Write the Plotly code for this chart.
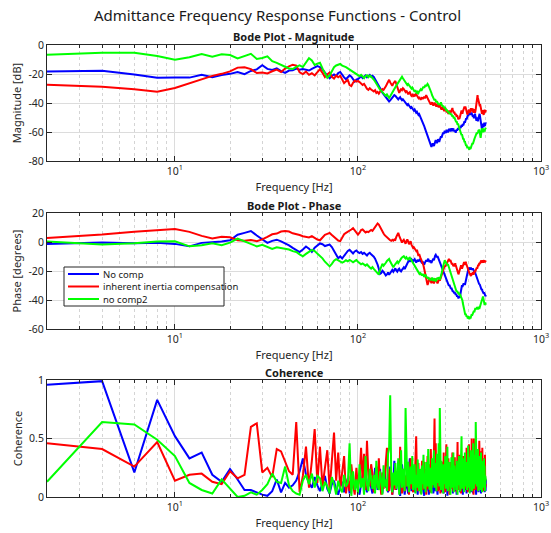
import plotly.graph_objects as go

# Frequency bins (Hz)
freq = list(range(2, 502, 2))

mag_nocomp = [
    -18.2, -17.8, -20.3, -22.6, -22.4, -22.5, -20.5, -22.2, -20.7, -19.9,
    -18.6, -20.1, -17.9, -16.8, -14.0, -16.5, -17.2, -16.1, -18.0, -19.2,
    -17.6, -17.4, -16.3, -17.1, -16.6, -17.3, -17.6, -16.4, -15.2, -14.6,
    -15.3, -16.8, -19.1, -21.2, -23.0, -21.4, -20.3, -21.3, -19.4, -18.6,
    -20.8, -22.3, -23.6, -22.0, -20.9, -21.8, -23.9, -25.2, -23.8, -23.5,
    -22.6, -21.5, -22.8, -21.9, -21.0, -22.3, -21.4, -20.7, -21.8, -21.2,
    -22.0, -23.5, -24.8, -26.5, -28.3, -29.8, -31.2, -32.9, -34.0, -34.8,
    -35.9, -37.0, -37.8, -38.9, -38.2, -37.1, -36.0, -35.2, -34.6, -35.0,
    -35.8, -36.9, -37.5, -36.6, -36.0, -37.2, -38.1, -37.4, -38.3, -39.0,
    -39.8, -40.6, -41.5, -40.8, -41.9, -42.7, -43.4, -42.8, -43.9, -44.6,
    -45.2, -44.5, -45.8, -46.7, -46.1, -47.3, -48.2, -47.6, -48.7, -49.5,
    -50.6, -51.9, -53.2, -54.6, -55.9, -57.3, -58.8, -60.1, -61.5, -62.8,
    -64.0, -65.3, -66.4, -67.8, -69.0, -70.3, -69.1, -67.9, -68.8, -69.6,
    -68.2, -66.9, -65.5, -66.8, -67.7, -66.3, -65.0, -65.9, -66.8, -65.4,
    -64.1, -63.0, -63.9, -62.5, -61.2, -60.3, -61.4, -60.2, -59.1, -59.8,
    -60.7, -59.4, -58.6, -59.5, -60.3, -59.1, -58.2, -57.8, -58.9, -59.6,
    -58.4, -57.5, -58.6, -59.4, -58.3, -57.6, -58.7, -59.5, -58.9, -59.7,
    -60.5, -59.2, -58.3, -59.1, -58.0, -57.2, -58.4, -57.6, -56.8, -57.5,
    -56.4, -57.3, -56.1, -55.2, -56.3, -55.5, -54.6, -55.4, -54.3, -53.5,
    -52.7, -53.6, -52.4, -51.3, -50.5, -51.4, -50.2, -49.3, -48.5, -49.2,
    -48.1, -47.3, -48.2, -47.0, -46.4, -47.5, -48.3, -47.1, -46.5, -47.6,
    -48.5, -49.4, -48.2, -49.6, -50.5, -49.3, -48.1, -47.4, -48.8, -50.2,
    -51.4, -52.3, -51.1, -50.0, -51.5, -52.6, -51.3, -50.2, -49.1, -48.3,
    -47.5, -48.9, -50.6, -52.3, -54.0, -55.6, -57.1, -58.3, -57.0, -55.8,
    -54.2, -55.5, -56.7, -55.1, -53.6, -54.8, -55.9, -54.4, -53.5, -54.2,
]

mag_inertia = [
    -27.4, -28.8, -30.5, -32.3, -29.6, -26.3, -23.5, -21.3, -19.9, -18.2,
    -15.6, -15.4, -16.6, -19.3, -19.0, -19.6, -18.1, -17.0, -18.6, -16.2,
    -14.8, -13.6, -14.2, -18.8, -20.1, -18.4, -20.6, -19.5, -21.0, -19.1,
    -16.6, -19.2, -22.1, -20.3, -19.0, -21.9, -23.2, -21.1, -22.3, -21.2,
    -24.0, -26.3, -25.1, -24.2, -27.6, -28.3, -26.0, -24.5, -25.3, -24.8,
    -25.6, -26.4, -27.5, -26.8, -28.9, -30.2, -31.0, -29.8, -30.7, -31.3,
    -32.0, -31.2, -33.1, -32.4, -33.6, -32.2, -31.5, -30.4, -30.9, -30.0,
    -28.5, -26.9, -25.2, -24.0, -25.8, -27.3, -28.1, -26.5, -25.2, -24.8,
    -26.9, -29.5, -31.8, -33.0, -31.6, -30.2, -31.1, -29.8, -30.5, -31.7,
    -32.4, -31.5, -33.2, -34.0, -33.1, -32.6, -34.1, -35.0, -34.3, -35.2,
    -34.6, -35.5, -34.2, -33.5, -34.8, -35.9, -36.6, -35.8, -37.0, -37.8,
    -36.9, -36.1, -37.3, -36.4, -35.6, -36.8, -35.2, -34.5, -35.7, -36.6,
    -37.5, -38.4, -39.6, -40.3, -41.1, -40.2, -39.5, -40.6, -41.8, -40.9,
    -39.8, -40.7, -41.6, -42.5, -41.3, -40.4, -41.9, -43.0, -42.2, -41.5,
    -42.6, -43.8, -44.5, -43.6, -42.8, -43.9, -44.8, -45.6, -44.3, -43.5,
    -44.7, -45.8, -46.5, -45.4, -46.6, -47.5, -46.3, -45.2, -46.4, -47.3,
    -46.2, -45.1, -44.3, -43.5, -44.8, -45.9, -47.0, -46.1, -47.4, -48.3,
    -47.5, -48.6, -49.5, -48.3, -49.6, -50.5, -51.4, -50.2, -51.1, -50.0,
    -48.6, -47.3, -46.1, -45.2, -46.5, -47.4, -46.0, -45.1, -44.3, -43.2,
    -42.5, -43.6, -42.4, -43.5, -44.8, -46.1, -47.2, -48.0, -47.1, -46.3,
    -45.4, -44.6, -45.8, -46.9, -45.7, -44.5, -43.6, -44.7, -45.9, -44.8,
    -43.7, -44.9, -45.8, -46.7, -45.5, -44.3, -45.6, -46.8, -45.7, -44.2,
    -42.0, -39.5, -37.1, -35.2, -34.6, -36.3, -38.2, -37.0, -39.1, -40.5,
    -41.6, -42.8, -41.5, -43.0, -44.2, -45.5, -46.6, -47.4, -46.2, -45.0,
    -46.3, -47.5, -48.2, -47.1, -45.8, -44.6, -45.7, -46.5, -45.2, -44.8,
]

mag_nocomp2 = [
    -6.8, -5.3, -5.3, -7.6, -10.2, -8.4, -6.2, -8.0, -6.4, -6.9,
    -9.2, -7.3, -6.1, -9.6, -9.0, -7.8, -11.2, -12.3, -13.9, -15.0,
    -16.2, -16.6, -15.1, -14.0, -15.2, -12.1, -9.1, -10.6, -13.8, -12.9,
    -12.3, -16.1, -19.8, -22.6, -21.0, -18.2, -15.3, -14.1, -13.5, -13.1,
    -14.2, -14.6, -15.3, -16.1, -17.0, -17.9, -18.4, -19.1, -20.0, -20.8,
    -21.5, -20.6, -21.9, -22.8, -21.4, -20.9, -22.2, -21.1, -21.8, -22.6,
    -23.8, -25.2, -26.9, -28.1, -29.5, -30.8, -31.6, -32.9, -33.4, -34.2,
    -35.0, -34.1, -35.6, -36.5, -35.3, -33.8, -32.4, -31.0, -30.2, -29.1,
    -28.0, -26.9, -25.6, -24.5, -23.2, -22.6, -21.8, -22.9, -23.7, -24.6,
    -25.8, -26.5, -27.6, -26.8, -27.9, -28.6, -29.5, -30.1, -29.4, -30.6,
    -31.5, -32.3, -31.2, -32.6, -33.5, -32.4, -33.1, -32.0, -31.4, -30.6,
    -31.5, -30.4, -29.6, -28.7, -29.5, -28.3, -27.6, -28.5, -27.2, -26.8,
    -27.5, -28.4, -29.6, -30.3, -31.7, -33.1, -34.6, -35.9, -36.8, -37.5,
    -38.2, -37.4, -38.6, -39.5, -38.7, -39.8, -40.6, -41.3, -40.5, -41.2,
    -40.4, -39.6, -40.8, -41.7, -42.5, -41.8, -42.9, -43.6, -42.7, -43.5,
    -44.4, -45.3, -44.6, -45.8, -46.5, -45.7, -46.9, -47.6, -46.8, -47.5,
    -48.2, -47.4, -48.6, -49.5, -48.7, -49.9, -50.6, -49.8, -50.7, -51.5,
    -52.3, -53.2, -52.5, -53.9, -55.0, -54.2, -55.8, -56.9, -57.6, -58.4,
    -59.3, -60.1, -61.0, -62.3, -61.5, -63.0, -64.2, -65.1, -64.4, -66.0,
    -67.1, -66.3, -67.8, -68.9, -69.6, -68.7, -70.1, -71.2, -70.4, -71.0,
    -70.2, -71.5, -72.3, -71.1, -70.3, -71.6, -70.8, -69.5, -70.2, -68.9,
    -67.6, -68.5, -66.8, -65.9, -66.7, -65.1, -64.3, -63.5, -62.6, -61.8,
    -62.5, -61.2, -60.4, -61.3, -59.8, -60.7, -59.5, -58.6, -59.4, -58.2,
    -59.6, -61.5, -63.2, -64.0, -62.1, -60.3, -58.4, -57.6, -58.9, -57.3,
    -58.5, -60.2, -59.1, -57.8, -58.6, -59.7, -58.3, -57.2, -57.9, -57.0,
]

phase_nocomp = [
    -1.4, -0.4, -0.8, -0.5, -1.3, -3.0, -0.6, -0.2, 0.4, 1.2,
    5.0, 6.3, 7.6, 4.5, 1.8, -0.6, 0.8, 1.6, 0.4, -0.9,
    -2.3, -4.1, -5.6, -7.0, -5.2, -3.1, -4.6, -6.8, -4.0, -2.2,
    -1.0, -1.5, -2.8, -2.2, -1.8, -3.5, -6.0, -8.8, -11.2, -10.0,
    -11.4, -9.5, -7.8, -6.2, -5.4, -6.8, -7.9, -6.5, -5.8, -7.0,
    -7.6, -6.9, -8.2, -7.5, -8.6, -9.3, -8.1, -7.4, -8.5, -9.2,
    -10.1, -11.5, -13.2, -15.6, -18.4, -22.0, -21.5, -19.8, -20.6, -22.3,
    -23.1, -22.4, -21.0, -22.6, -21.4, -20.1, -19.3, -20.5, -19.0, -18.2,
    -19.6, -20.4, -19.1, -18.4, -19.7, -20.3, -19.2, -18.1, -17.5, -18.6,
    -17.2, -15.8, -14.5, -13.1, -12.4, -13.6, -12.8, -11.9, -12.7, -13.5,
    -12.4, -11.8, -13.0, -14.2, -13.1, -12.3, -13.5, -12.6, -11.7, -12.9,
    -13.8, -14.6, -13.5, -14.8, -15.6, -14.4, -13.2, -12.5, -13.4, -12.1,
    -11.6, -12.8, -13.9, -12.7, -13.6, -14.5, -13.3, -12.4, -11.5, -12.6,
    -10.2, -9.4, -8.8, -9.6, -10.5, -9.7, -10.8, -11.6, -12.5, -13.8,
    -14.6, -15.9, -17.0, -18.3, -19.1, -20.4, -21.2, -22.0, -23.1, -23.9,
    -24.6, -25.8, -26.5, -27.6, -28.3, -29.1, -30.2, -29.5, -30.6, -31.4,
    -32.3, -31.6, -32.8, -33.5, -34.4, -33.6, -34.7, -35.5, -34.8, -35.9,
    -36.5, -35.7, -36.9, -37.8, -37.0, -38.2, -38.9, -38.1, -37.4, -38.3,
    -37.5, -35.0, -32.3, -30.5, -29.8, -31.0, -30.2, -29.4, -28.5, -29.6,
    -28.8, -29.7, -28.4, -27.1, -25.3, -23.4, -21.8, -20.2, -19.1, -18.4,
    -17.9, -18.6, -17.5, -18.3, -19.1, -18.2, -17.6, -18.5, -19.3, -18.4,
    -19.0, -18.2, -19.3, -18.5, -19.6, -20.5, -21.3, -20.4, -21.6, -22.4,
    -22.1, -23.4, -24.6, -25.3, -26.4, -27.2, -26.5, -27.8, -28.6, -29.3,
    -29.0, -30.2, -31.1, -30.4, -31.6, -32.5, -33.1, -32.4, -33.5, -34.2,
    -33.6, -34.8, -35.5, -34.7, -35.9, -36.6, -35.8, -36.9, -37.4, -36.6,
]

phase_inertia = [
    2.8, 5.1, 7.0, 8.0, 8.9, 7.0, 4.2, 2.4, 3.6, 3.3,
    1.2, 0.9, 1.4, 0.6, 1.8, 3.5, 5.3, 5.8, 7.2, 7.6,
    7.2, 6.0, 5.5, 4.8, 4.0, 3.6, 3.2, 4.1, 2.8, 1.7,
    1.2, 2.9, 5.0, 5.6, 6.2, 4.8, 3.4, 2.1, 1.0, 0.6,
    3.2, 5.4, 6.3, 7.0, 7.4, 8.6, 9.5, 8.0, 6.3, 5.1,
    6.4, 8.2, 8.6, 7.5, 6.6, 7.2, 6.8, 7.6, 8.3, 7.7,
    8.9, 10.2, 11.5, 12.8, 12.0, 10.3, 8.1, 6.4, 5.9, 4.7,
    3.8, 3.0, 2.6, 1.9, 1.2, 0.8, 1.5, 0.9, 1.7, 1.4,
    3.5, 5.8, 6.3, 4.2, 2.1, 0.6, -0.4, 0.8, 1.5, 0.2,
    -1.2, 0.6, 1.8, 0.4, -1.5, -0.7, 0.5, -1.8, -3.2, -4.1,
    -3.6, -4.5, -5.3, -6.2, -5.4, -7.8, -9.6, -8.3, -10.5, -11.4,
    -12.3, -13.5, -14.6, -16.2, -18.5, -21.0, -23.4, -25.7, -27.8, -29.6,
    -28.2, -26.5, -24.8, -25.9, -27.3, -28.4, -27.1, -26.0, -27.5, -28.6,
    -27.4, -26.2, -25.3, -26.5, -27.7, -28.6, -27.5, -26.3, -25.4, -26.6,
    -25.5, -24.2, -23.1, -22.0, -20.8, -19.5, -18.3, -17.1, -16.2, -17.0,
    -16.1, -15.2, -14.3, -13.5, -12.7, -12.0, -11.6, -12.4, -13.3, -12.5,
    -13.6, -14.7, -15.5, -14.6, -15.8, -16.7, -15.9, -16.8, -15.6, -14.7,
    -15.9, -17.0, -18.2, -19.4, -20.5, -21.6, -22.3, -21.4, -20.2, -19.1,
    -18.0, -17.2, -16.1, -17.3, -18.4, -17.5, -16.3, -15.2, -14.4, -13.8,
    -14.9, -15.8, -14.7, -13.6, -14.8, -15.9, -17.1, -18.2, -19.3, -20.2,
    -19.4, -20.5, -21.3, -22.2, -21.4, -22.6, -23.4, -22.5, -21.6, -22.8,
    -21.9, -20.8, -21.7, -22.5, -21.3, -20.4, -19.6, -20.7, -19.8, -18.9,
    -19.8, -18.7, -17.6, -18.5, -17.3, -16.4, -15.6, -16.5, -15.3, -14.5,
    -15.4, -14.6, -13.8, -14.7, -13.5, -12.8, -13.6, -14.4, -13.2, -12.6,
    -13.5, -14.3, -13.1, -12.5, -13.4, -12.7, -13.6, -12.8, -13.3, -12.9,
]

phase_nocomp2 = [
    0.3, -1.7, -0.9, 0.4, 0.5, -3.0, -2.3, -0.8, -2.2, -0.4,
    2.3, 0.4, -1.8, -3.0, -1.9, -3.4, -4.8, -3.6, -4.1, -4.5,
    -5.2, -6.3, -6.9, -8.5, -9.9, -8.2, -6.6, -5.4, -6.3, -7.8,
    -9.5, -11.3, -13.6, -14.9, -16.8, -15.1, -12.9, -11.8, -12.6, -13.4,
    -14.2, -13.5, -12.6, -13.3, -12.4, -13.1, -14.0, -13.2, -12.5, -13.6,
    -14.6, -15.4, -14.8, -15.9, -16.3, -15.5, -16.8, -17.6, -18.4, -17.3,
    -18.5, -19.6, -20.8, -21.9, -22.5, -19.3, -16.1, -15.0, -16.4, -15.6,
    -14.3, -13.1, -12.0, -11.7, -13.5, -15.2, -16.9, -17.4, -16.2, -15.0,
    -14.1, -13.5, -14.6, -13.2, -12.4, -11.5, -10.6, -10.1, -9.8, -10.7,
    -11.3, -10.5, -11.6, -12.4, -11.2, -10.8, -11.7, -12.6, -13.4, -14.3,
    -15.2, -16.8, -17.5, -18.3, -19.4, -20.1, -21.0, -21.8, -22.5, -21.6,
    -22.4, -23.1, -22.0, -23.2, -24.1, -23.3, -22.5, -23.6, -24.4, -25.2,
    -24.3, -25.1, -26.0, -25.2, -26.4, -25.5, -24.6, -25.8, -26.7, -25.9,
    -25.0, -26.2, -27.1, -26.3, -25.4, -24.6, -25.5, -24.3, -25.2, -26.0,
    -24.8, -23.6, -22.5, -20.4, -18.2, -16.1, -14.5, -13.2, -12.6, -13.4,
    -13.8, -14.5, -15.4, -16.0, -15.2, -16.3, -17.5, -18.6, -19.8, -21.2,
    -22.5, -23.6, -24.8, -26.0, -27.1, -28.3, -29.4, -30.5, -31.3, -32.4,
    -33.0, -33.8, -34.5, -33.6, -34.7, -35.5, -34.6, -35.8, -36.5, -35.7,
    -36.6, -37.5, -36.8, -37.9, -38.7, -40.2, -42.1, -44.0, -45.8, -47.3,
    -48.5, -49.6, -50.4, -49.5, -50.7, -51.6, -50.8, -51.9, -52.8, -52.0,
    -51.2, -52.5, -53.3, -52.4, -51.6, -52.7, -51.5, -50.6, -49.8, -50.7,
    -49.6, -48.5, -49.4, -48.3, -47.5, -48.4, -47.2, -46.3, -45.6, -46.4,
    -45.5, -46.6, -45.8, -44.9, -45.7, -46.5, -45.4, -44.6, -45.5, -46.2,
    -45.3, -44.2, -43.5, -44.4, -43.2, -42.4, -41.5, -40.6, -39.8, -38.5,
    -37.6, -38.7, -39.8, -41.2, -42.6, -43.5, -42.3, -41.6, -43.0, -42.4,
]

coh_nocomp = [
    0.96, 0.99, 0.21, 0.83, 0.52, 0.33, 0.38, 0.19, 0.13, 0.24,
    0.15, 0.06, 0.06, 0.04, 0.02, 0.01, 0.05, 0.15, 0.04, 0.12,
    0.08, 0.10, 0.14, 0.22, 0.33, 0.19, 0.12, 0.08, 0.17, 0.10,
    0.05, 0.12, 0.18, 0.07, 0.03, 0.11, 0.14, 0.06, 0.02, 0.09,
    0.13, 0.04, 0.10, 0.16, 0.03, 0.08, 0.12, 0.05, 0.14, 0.07,
    0.02, 0.11, 0.18, 0.25, 0.09, 0.04, 0.14, 0.21, 0.08, 0.03,
    0.12, 0.25, 0.16, 0.06, 0.19, 0.24, 0.10, 0.03, 0.15, 0.22,
    0.08, 0.13, 0.04, 0.18, 0.26, 0.11, 0.02, 0.09, 0.31, 0.16,
    0.06, 0.14, 0.22, 0.05, 0.01, 0.12, 0.28, 0.17, 0.07, 0.02,
    0.10, 0.19, 0.08, 0.03, 0.25, 0.33, 0.12, 0.05, 0.16, 0.09,
    0.21, 0.04, 0.13, 0.27, 0.08, 0.02, 0.17, 0.23, 0.06, 0.11,
    0.03, 0.15, 0.24, 0.09, 0.01, 0.18, 0.12, 0.05, 0.22, 0.14,
    0.07, 0.02, 0.16, 0.21, 0.04, 0.10, 0.26, 0.13, 0.03, 0.08,
    0.11, 0.05, 0.19, 0.24, 0.08, 0.02, 0.15, 0.22, 0.06, 0.13,
    0.20, 0.04, 0.09, 0.17, 0.27, 0.10, 0.03, 0.14, 0.21, 0.07,
    0.12, 0.25, 0.06, 0.01, 0.18, 0.23, 0.09, 0.15, 0.04, 0.20,
    0.08, 0.14, 0.26, 0.11, 0.03, 0.19, 0.07, 0.22, 0.13, 0.05,
    0.17, 0.09, 0.02, 0.21, 0.28, 0.12, 0.06, 0.16, 0.24, 0.10,
    0.04, 0.18, 0.13, 0.07, 0.23, 0.15, 0.02, 0.11, 0.26, 0.09,
    0.14, 0.06, 0.20, 0.25, 0.10, 0.03, 0.17, 0.12, 0.08, 0.22,
    0.05, 0.16, 0.24, 0.09, 0.13, 0.27, 0.04, 0.19, 0.11, 0.07,
    0.21, 0.12, 0.03, 0.18, 0.26, 0.08, 0.14, 0.06, 0.23, 0.10,
    0.02, 0.15, 0.20, 0.07, 0.12, 0.29, 0.09, 0.04, 0.17, 0.13,
    0.24, 0.08, 0.11, 0.19, 0.03, 0.14, 0.22, 0.06, 0.10, 0.18,
    0.07, 0.13, 0.25, 0.09, 0.16, 0.04, 0.20, 0.12, 0.05, 0.15,
]

coh_inertia = [
    0.46, 0.41, 0.26, 0.47, 0.14, 0.19, 0.20, 0.13, 0.11, 0.22,
    0.16, 0.19, 0.60, 0.63, 0.21, 0.25, 0.17, 0.41, 0.39, 0.30,
    0.22, 0.19, 0.64, 0.04, 0.18, 0.43, 0.08, 0.31, 0.58, 0.12,
    0.43, 0.09, 0.26, 0.40, 0.06, 0.34, 0.55, 0.14, 0.38, 0.07,
    0.22, 0.35, 0.03, 0.15, 0.05, 0.28, 0.11, 0.02, 0.25, 0.08,
    0.17, 0.42, 0.13, 0.37, 0.06, 0.48, 0.19, 0.09, 0.28, 0.20,
    0.04, 0.14, 0.26, 0.08, 0.33, 0.12, 0.02, 0.21, 0.07, 0.18,
    0.36, 0.42, 0.15, 0.05, 0.24, 0.11, 0.02, 0.19, 0.10, 0.06,
    0.22, 0.14, 0.30, 0.08, 0.43, 0.16, 0.03, 0.12, 0.24, 0.05,
    0.18, 0.09, 0.27, 0.13, 0.02, 0.21, 0.33, 0.07, 0.15, 0.04,
    0.26, 0.11, 0.38, 0.52, 0.14, 0.05, 0.29, 0.10, 0.22, 0.03,
    0.17, 0.31, 0.06, 0.20, 0.30, 0.09, 0.24, 0.02, 0.13, 0.35,
    0.07, 0.19, 0.28, 0.04, 0.41, 0.15, 0.08, 0.26, 0.12, 0.36,
    0.67, 0.21, 0.46, 0.09, 0.18, 0.32, 0.05, 0.24, 0.14, 0.29,
    0.03, 0.17, 0.30, 0.10, 0.22, 0.06, 0.38, 0.12, 0.25, 0.04,
    0.19, 0.45, 0.13, 0.27, 0.08, 0.33, 0.16, 0.02, 0.24, 0.11,
    0.30, 0.07, 0.21, 0.38, 0.14, 0.05, 0.26, 0.18, 0.34, 0.09,
    0.15, 0.28, 0.04, 0.22, 0.47, 0.12, 0.31, 0.06, 0.19, 0.36,
    0.10, 0.25, 0.03, 0.17, 0.29, 0.08, 0.21, 0.35, 0.13, 0.05,
    0.24, 0.11, 0.30, 0.07, 0.19, 0.42, 0.15, 0.26, 0.04, 0.33,
    0.16, 0.45, 0.09, 0.22, 0.28, 0.06, 0.37, 0.14, 0.50, 0.20,
    0.08, 0.31, 0.17, 0.02, 0.50, 0.25, 0.12, 0.36, 0.06, 0.19,
    0.29, 0.10, 0.41, 0.15, 0.23, 0.05, 0.33, 0.18, 0.27, 0.48,
    0.12, 0.24, 0.07, 0.39, 0.16, 0.30, 0.09, 0.21, 0.42, 0.14,
    0.05, 0.26, 0.18, 0.33, 0.10, 0.22, 0.36, 0.08, 0.15, 0.11,
]

coh_nocomp2 = [
    0.13, 0.64, 0.62, 0.49, 0.35, 0.12, 0.06, 0.03, 0.15, 0.07,
    0.00, 0.01, 0.04, 0.02, 0.06, 0.11, 0.20, 0.13, 0.12, 0.26,
    0.10, 0.05, 0.03, 0.02, 0.14, 0.19, 0.11, 0.20, 0.08, 0.18,
    0.16, 0.05, 0.13, 0.09, 0.03, 0.17, 0.11, 0.02, 0.14, 0.07,
    0.04, 0.19, 0.09, 0.12, 0.46, 0.01, 0.22, 0.06, 0.15, 0.03,
    0.28, 0.08, 0.16, 0.02, 0.35, 0.11, 0.05, 0.24, 0.13, 0.07,
    0.19, 0.03, 0.31, 0.10, 0.06, 0.22, 0.14, 0.02, 0.27, 0.09,
    0.15, 0.05, 0.37, 0.42, 0.87, 0.18, 0.04, 0.21, 0.10, 0.29,
    0.07, 0.13, 0.33, 0.02, 0.19, 0.40, 0.08, 0.24, 0.14, 0.05,
    0.76, 0.22, 0.09, 0.30, 0.04, 0.17, 0.26, 0.11, 0.35, 0.06,
    0.14, 0.28, 0.03, 0.19, 0.08, 0.32, 0.12, 0.05, 0.24, 0.16,
    0.02, 0.27, 0.11, 0.36, 0.07, 0.20, 0.04, 0.30, 0.15, 0.09,
    0.41, 0.13, 0.06, 0.25, 0.18, 0.03, 0.33, 0.10, 0.22, 0.40,
    0.08, 0.16, 0.29, 0.05, 0.37, 0.12, 0.21, 0.46, 0.09, 0.76,
    0.18, 0.06, 0.31, 0.14, 0.24, 0.03, 0.28, 0.11, 0.19, 0.35,
    0.07, 0.22, 0.13, 0.43, 0.05, 0.17, 0.30, 0.09, 0.25, 0.02,
    0.16, 0.34, 0.08, 0.20, 0.12, 0.38, 0.04, 0.27, 0.15, 0.09,
    0.23, 0.06, 0.31, 0.14, 0.02, 0.26, 0.18, 0.35, 0.10, 0.21,
    0.05, 0.29, 0.13, 0.52, 0.19, 0.07, 0.33, 0.11, 0.24, 0.04,
    0.17, 0.38, 0.09, 0.21, 0.14, 0.30, 0.06, 0.25, 0.12, 0.44,
    0.08, 0.19, 0.34, 0.03, 0.27, 0.15, 0.40, 0.10, 0.22, 0.05,
    0.31, 0.13, 0.46, 0.18, 0.07, 0.28, 0.16, 0.36, 0.11, 0.64,
    0.24, 0.62, 0.09, 0.33, 0.17, 0.41, 0.05, 0.26, 0.14, 0.35,
    0.10, 0.29, 0.06, 0.22, 0.38, 0.13, 0.20, 0.04, 0.31, 0.16,
    0.25, 0.08, 0.19, 0.33, 0.12, 0.27, 0.05, 0.18, 0.10, 0.14,
]

series_names = ["No comp", "inherent inertia compensation", "no comp2"]
series_colors = ["#0000ff", "#ff0000", "#00ff00"]

x_tick_vals = [10, 100, 1000]
x_tick_text = ["10<sup>1</sup>", "10<sup>2</sup>", "10<sup>3</sup>"]
x_minor_vals = [m * d for d in (1, 10, 100) for m in range(2, 10)]

# ---- layout geometry (pixels) ----
W, H = 551, 533
ML, MR, MT, MB = 47, 10, 45, 36
PW, PH = W - ML - MR, H - MT - MB


def px_x(px):
    return (px - ML) / PW


def px_y(py):
    return (H - MB - py) / PH


panels = [
    dict(data=[mag_nocomp, mag_inertia, mag_nocomp2], title="Bode Plot - Magnitude",
         ylabel="Magnitude [dB]", yrange=[-80, 0], yticks=[-80, -60, -40, -20, 0],
         yticktext=["-80", "-60", "-40", "-20", "0"], top=45, bottom=161),
    dict(data=[phase_nocomp, phase_inertia, phase_nocomp2], title="Bode Plot - Phase",
         ylabel="Phase [degrees]", yrange=[-60, 20], yticks=[-60, -40, -20, 0, 20],
         yticktext=["-60", "-40", "-20", "0", "20"], top=213, bottom=329),
    dict(data=[coh_nocomp, coh_inertia, coh_nocomp2], title="Coherence",
         ylabel="Coherence", yrange=[0, 1], yticks=[0, 0.5, 1],
         yticktext=["0", "0.5", "1"], top=380, bottom=497),
]

FONT = "Noto Sans"
AX = "#262626"
TXT = "#1a1a1a"
fig = go.Figure()
annotations = []
shapes = []
layout = dict(
    width=W, height=H,
    margin=dict(l=ML, r=MR, t=MT, b=MB, autoexpand=False),
    paper_bgcolor="white", plot_bgcolor="white",
    font=dict(family=FONT, size=11, color=AX),
    showlegend=False,
)

for i, p in enumerate(panels, start=1):
    xa = "x" if i == 1 else f"x{i}"
    ya = "y" if i == 1 else f"y{i}"
    for name, color, vals in zip(series_names, series_colors, p["data"]):
        fig.add_trace(go.Scatter(x=freq, y=vals, mode="lines", name=name,
                                 line=dict(color=color, width=2),
                                 xaxis=xa, yaxis=ya))
    xkey = "xaxis" if i == 1 else f"xaxis{i}"
    ykey = "yaxis" if i == 1 else f"yaxis{i}"
    layout[xkey] = dict(
        type="log", range=[0.30103, 3], domain=[0, 1], anchor=ya, automargin=False,
        tickmode="array", tickvals=x_tick_vals, ticktext=x_tick_text,
        ticks="inside", ticklen=5, tickcolor=AX, showline=True, linecolor=AX,
        linewidth=1, mirror="ticks", showgrid=True, gridcolor="#dcdcdc", gridwidth=1,
        zeroline=False, tickfont=dict(size=10.5, color=AX),
        minor=dict(tickmode="array", tickvals=x_minor_vals, ticks="inside", ticklen=3,
                   tickcolor=AX, showgrid=True, gridcolor="#d4d4d4", griddash="dot",
                   gridwidth=1),
        title=dict(text="Frequency [Hz]", font=dict(size=11, color=AX), standoff=6),
    )
    layout[ykey] = dict(
        range=p["yrange"], domain=[px_y(p["bottom"]), px_y(p["top"])], anchor=xa,
        automargin=False,
        tickmode="array", tickvals=p["yticks"], ticktext=p["yticktext"],
        ticks="inside", ticklen=5, tickcolor=AX, showline=True, linecolor=AX,
        linewidth=1, mirror="ticks", showgrid=True, gridcolor="#dcdcdc", gridwidth=1,
        zeroline=False, tickfont=dict(size=10.5, color=AX),
        title=dict(text=p["ylabel"], font=dict(size=11, color=AX), standoff=4),
    )
    annotations.append(dict(
        text=f"<b>{p['title']}</b>", x=0.5, y=px_y(p["top"] - 8), xref="paper",
        yref="paper", xanchor="center", yanchor="middle",
        showarrow=False, font=dict(family=FONT, size=11, color=TXT)))

# main title
annotations.append(dict(
    text="Admittance Frequency Response Functions - Control", x=px_x(277), y=px_y(15),
    xref="paper", yref="paper", xanchor="center", yanchor="middle", showarrow=False,
    font=dict(family=FONT, size=15, color=TXT)))

# legend (phase panel), drawn as a framed box
box = dict(x0=64, x1=224, y0=267, y1=306)
shapes.append(dict(type="rect", xref="paper", yref="paper",
                   x0=px_x(box["x0"]), x1=px_x(box["x1"]),
                   y0=px_y(box["y1"]), y1=px_y(box["y0"]),
                   line=dict(color=AX, width=1), fillcolor="white", layer="above"))
for k, (name, color) in enumerate(zip(series_names, series_colors)):
    yy = 274 + k * 12.5
    shapes.append(dict(type="line", xref="paper", yref="paper",
                       x0=px_x(68), x1=px_x(99), y0=px_y(yy), y1=px_y(yy),
                       line=dict(color=color, width=2), layer="above"))
    annotations.append(dict(text=name, x=px_x(101), y=px_y(yy), xref="paper",
                            yref="paper", xanchor="left", yanchor="middle",
                            showarrow=False,
                            font=dict(family=FONT, size=9.5, color=TXT)))

layout["annotations"] = annotations
layout["shapes"] = shapes
fig.update_layout(**layout)
fig.write_html(
    "out.html",
    config={"displayModeBar": False},
    post_script="document.body.style.margin='0px';document.body.style.overflow='hidden';",
)
